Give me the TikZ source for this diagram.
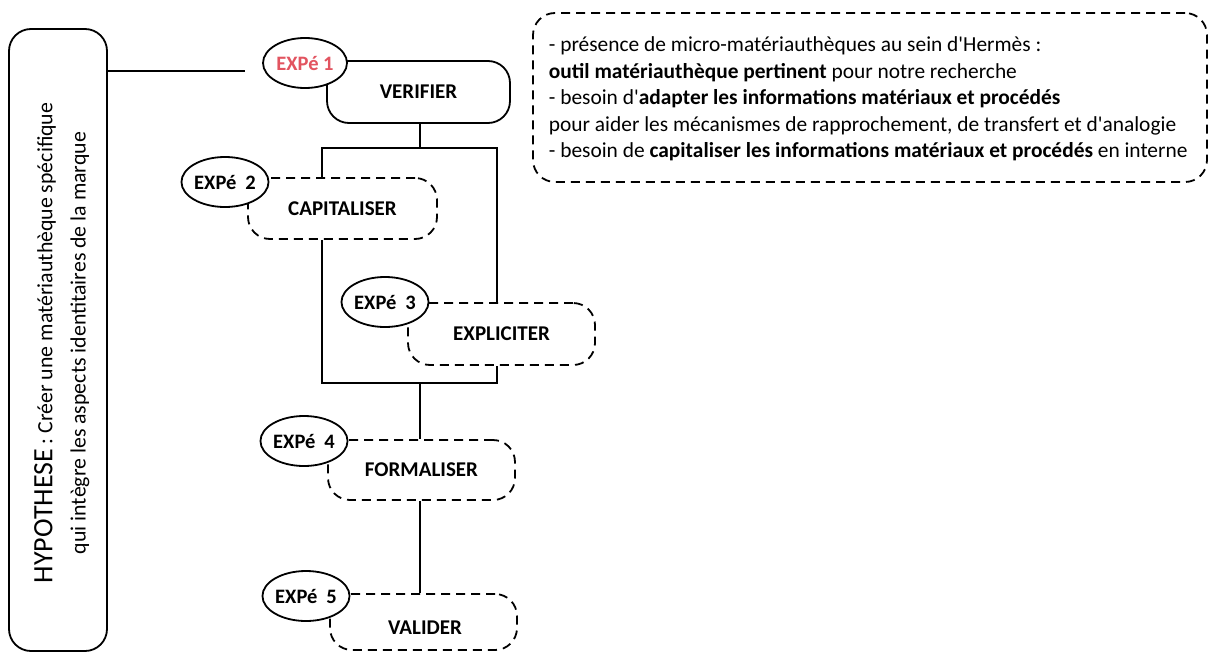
\documentclass[tikz,border=0pt]{standalone}
\usepackage{fontspec}
\setmainfont{Carlito}[Ligatures=TeXOff]
\usetikzlibrary{shapes.geometric}
\definecolor{expred}{RGB}{226,84,96}
\begin{document}
\begin{tikzpicture}[x=1pt,y=-1pt,line width=1.8pt,
  lbl/.style={font=\fontsize{21}{24}\selectfont\bfseries},
  solidbox/.style={draw,fill=white,rounded corners=22pt,inner sep=0pt,lbl},
  dashbox/.style={solidbox,dash pattern=on 9pt off 6pt},
  ell/.style={draw,fill=white,ellipse,inner sep=0pt,minimum width=84pt,minimum height=50pt,font=\fontsize{20.5}{24}\selectfont\bfseries},
  conn/.style={draw,line width=1.8pt}
]
\useasboundingbox (0,0) rectangle (1210,653);

% hypothesis box
\node[draw,rounded corners=22pt,minimum width=98pt,minimum height=622pt,inner sep=0pt] (hyp) at (58,340) {};
\node[rotate=90,font=\fontsize{21.8}{24}\selectfont] (h1) at (45,343) {{\fontsize{28}{30}\selectfont HYPOTHESE} : Créer une matériauthèque spécifique};
\node[rotate=90,font=\fontsize{21.8}{24}\selectfont] (h2) at (80,343) {qui intègre les aspects identitaires de la marque};

% boxes
\node[solidbox,minimum width=183pt,minimum height=62pt] (verif) at (418.5,92) {VERIFIER};
\node[dashbox,minimum width=189pt,minimum height=61pt] (cap) at (342.5,208.5) {CAPITALISER};
\node[dashbox,minimum width=187pt,minimum height=62pt] (expl) at (501.5,334) {EXPLICITER};
\node[dashbox,minimum width=187pt,minimum height=60pt] (form) at (421.5,470) {FORMALISER};
\node[dashbox,minimum width=187pt,minimum height=56pt] (valid) at (423.5,622) {};
\node[lbl] (validtxt) at (425,628) {VALIDER};

% ellipses
\node[ell,text=expred] (e1) at (305,63) {EXPé 1};
\node[ell] (e2) at (225,182) {EXPé\hspace{9pt}2};
\node[ell] (e3) at (385,302) {EXPé\hspace{9pt}3};
\node[ell] (e4) at (304,441) {EXPé\hspace{9pt}4};
\node[ell] (e5) at (306,596) {EXPé\hspace{9pt}5};

% connectors
\coordinate (c0) at (245,71);
\draw[conn] (hyp.east |- c0) -- (c0);
\coordinate (j1) at (420,148);
\coordinate (tl) at (322,148);
\coordinate (tr) at (497,148);
\draw[conn] (verif.south -| j1) -- (j1);
\draw[conn] (cap.north -| tl) -- (tl) -- (tr) -- (expl.north -| tr);
\coordinate (bl) at (322,383);
\coordinate (br) at (497,383);
\coordinate (j2) at (420,383);
\draw[conn] (cap.south -| bl) -- (bl) -- (br) -- (expl.south -| br);
\draw[conn] (j2) -- (form.north -| j2);
\draw[conn] (form.south -| j2) -- (valid.north -| j2);

% info box
\node[draw,dash pattern=on 9pt off 6pt,rounded corners=22pt,minimum width=674pt,minimum height=169pt,inner sep=0pt] (info) at (870,97.5) {};
\node[anchor=north west,inner sep=0pt,align=left,font=\fontsize{21.4}{26.5}\selectfont] (infotxt) at (548,36) {%
- présence de micro-matériauthèques au sein d'Hermès :\\
\textbf{outil matériauthèque pertinent} pour notre recherche\\
- besoin d'\textbf{adapter les informations matériaux et procédés}\\
pour aider les mécanismes de rapprochement, de transfert et d'analogie\\
- besoin de \textbf{capitaliser les informations matériaux et procédés} en interne};
\end{tikzpicture}
\end{document}
